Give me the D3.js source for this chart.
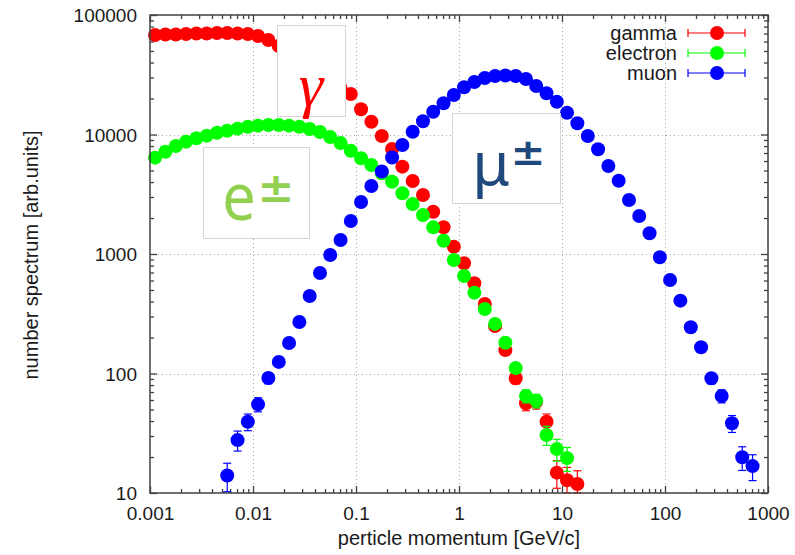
<!DOCTYPE html>
<html>
<head>
<meta charset="utf-8">
<script src="https://cdn.jsdelivr.net/npm/d3@7"></script>
<style>
  body { margin: 0; background: #fff; }
  svg { display: block; }
</style>
</head>
<body>
<svg id="chart" width="795" height="555"></svg>
<script>
// Momentum bin centres [GeV/c], ten bins per decade
const momentum = [
  0.00112, 0.00141, 0.00178, 0.00224, 0.00282, 0.00355, 0.00447, 0.00562, 0.00708, 0.00891,
  0.0112, 0.0141, 0.0178, 0.0224, 0.0282, 0.0355, 0.0447, 0.0562, 0.0708, 0.0891,
  0.112, 0.141, 0.178, 0.224, 0.282, 0.355, 0.447, 0.562, 0.708, 0.891,
  1.12, 1.41, 1.78, 2.24, 2.82, 3.55, 4.47, 5.62, 7.08, 8.91,
  11.2, 14.1, 17.8, 22.4, 28.2, 35.5, 44.7, 56.2, 70.8, 89.1,
  112, 141, 178, 224, 282, 355, 447, 562, 708
];

// Counts per bin for each particle type
const gammaCounts = [
  68000, 68700, 68700, 69400, 70000, 70000, 70700, 70700, 70000, 69400,
  66700, 61800, 55000, 48100, 42000, 36700, 32200, 28600, 24500, 21800,
  16250, 12800, 9710, 7560, 5380, 4085, 3120, 2260, 1672, 1151,
  836, 569, 382, 250, 157, 91.2, 56.3, 58, 39.5, 14.8,
  12.8, 11.9
];
const electronCounts = [
  6400, 7180, 8020, 8710, 9300, 9780, 10350, 10760, 11190, 11620,
  11860, 12000, 12000, 11860, 11620, 11120, 10490, 9530, 8490, 7315,
  6320, 5560, 4735, 4025, 3220, 2620, 2120, 1671, 1291, 891,
  655, 475, 347, 260, 181, 111, 64.8, 59.2, 30.6, 23.3,
  19.6
];
const muonCounts = [
  14, 27.7, 39.5, 55.2, 91.6, 125, 180, 270, 445, 693,
  981, 1310, 1889, 2723, 3707, 4900, 6420, 8170, 10550, 12900,
  15520, 18240, 21410, 24830, 27500, 29710, 30870, 31170, 30870, 29140,
  25460, 22120, 18820, 15220, 12410, 9710, 7520, 5450, 4107, 2831,
  2080, 1490, 939, 606, 407, 244, 166, 91.2, 64.8, 38.3,
  19.9, 16.8
];
// index of the first momentum bin of each series
const seriesStart = [0, 0, 7];

const seriesNames = ["gamma", "electron", "muon"];
const seriesColors = ["#ff0000", "#00ff00", "#0000ff"];

const xTicks = [0.001, 0.01, 0.1, 1, 10, 100, 1000];
const xTickLabels = ["0.001", "0.01", "0.1", "1", "10", "100", "1000"];
const yTicks = [10, 100, 1000, 10000, 100000];
const yTickLabels = ["10", "100", "1000", "10000", "100000"];

const xTitle = "perticle momentum [GeV/c]";
const yTitle = "number spectrum [arb.units]";

// ---- layout ----
const svg = d3.select("#chart");
const plot = { left: 150, right: 768, top: 15, bottom: 493 };
const font = "'Liberation Sans', Arial, Helvetica, sans-serif";
const axisColor = "#404040";
const textColor = "#1a1a1a";
const markerR = 7;

const x = d3.scaleLog().domain([0.001, 1000]).range([plot.left, plot.right]);
const y = d3.scaleLog().domain([10, 100000]).range([plot.bottom, plot.top]);

// minor tick positions 2..9 within each decade
const minorOf = (majors) => {
  const out = [];
  majors.slice(0, -1).forEach(d => { for (let m = 2; m <= 9; m++) out.push(d * m); });
  return out;
};
const xMinor = minorOf(xTicks);
const yMinor = minorOf(yTicks);

// ---- grid ----
const grid = svg.append("g").attr("stroke", "#a8a8a8").attr("stroke-width", 1)
  .attr("stroke-dasharray", "1,3");
xTicks.slice(1, -1).forEach(t => {
  grid.append("line").attr("x1", Math.round(x(t)) + 0.5).attr("x2", Math.round(x(t)) + 0.5)
    .attr("y1", plot.top).attr("y2", plot.bottom);
});
yTicks.slice(1, -1).forEach(t => {
  grid.append("line").attr("y1", Math.round(y(t)) + 0.5).attr("y2", Math.round(y(t)) + 0.5)
    .attr("x1", plot.left).attr("x2", plot.right);
});

// ---- axes (ticks point inward on all four sides) ----
function styleAxis(g) {
  g.select(".domain").remove();
  g.selectAll(".tick line").attr("stroke", axisColor).attr("stroke-width", 1.3);
}
const noLabel = () => "";

svg.append("g").attr("transform", `translate(0,${plot.bottom})`)
  .call(d3.axisBottom(x).tickValues(xMinor).tickFormat(noLabel).tickSize(-4)).call(styleAxis);
svg.append("g").attr("transform", `translate(0,${plot.top})`)
  .call(d3.axisTop(x).tickValues(xMinor).tickFormat(noLabel).tickSize(-4)).call(styleAxis);
svg.append("g").attr("transform", `translate(${plot.left},0)`)
  .call(d3.axisLeft(y).tickValues(yMinor).tickFormat(noLabel).tickSize(-4)).call(styleAxis);
svg.append("g").attr("transform", `translate(${plot.right},0)`)
  .call(d3.axisRight(y).tickValues(yMinor).tickFormat(noLabel).tickSize(-4)).call(styleAxis);

const xAxis = svg.append("g").attr("transform", `translate(0,${plot.bottom})`)
  .call(d3.axisBottom(x).tickValues(xTicks).tickFormat((d, i) => xTickLabels[i]).tickSize(-7))
  .call(styleAxis);
xAxis.selectAll(".tick text").attr("y", 27).attr("dy", 0)
  .attr("font-family", font).attr("font-size", 19).attr("fill", textColor);

const yAxis = svg.append("g").attr("transform", `translate(${plot.left},0)`)
  .call(d3.axisLeft(y).tickValues(yTicks).tickFormat((d, i) => yTickLabels[i]).tickSize(-7))
  .call(styleAxis);
yAxis.selectAll(".tick text").attr("x", -13).attr("dy", "0.36em")
  .attr("font-family", font).attr("font-size", 19).attr("fill", textColor);

svg.append("g").attr("transform", `translate(0,${plot.top})`)
  .call(d3.axisTop(x).tickValues(xTicks).tickFormat(noLabel).tickSize(-7)).call(styleAxis);
svg.append("g").attr("transform", `translate(${plot.right},0)`)
  .call(d3.axisRight(y).tickValues(yTicks).tickFormat(noLabel).tickSize(-7)).call(styleAxis);

// ---- axis titles ----
svg.append("text").attr("x", 459).attr("y", 545).attr("text-anchor", "middle")
  .attr("font-family", font).attr("font-size", 20).attr("fill", textColor).text(xTitle);
svg.append("text").attr("transform", "translate(38,255) rotate(-90)").attr("text-anchor", "middle")
  .attr("font-family", font).attr("font-size", 20).attr("fill", textColor).text(yTitle);

// ---- data series: points with statistical (sqrt N) error bars ----
const counts = [gammaCounts, electronCounts, muonCounts];
const series = counts.map((c, s) => ({
  name: seriesNames[s],
  color: seriesColors[s],
  points: c.map((n, i) => ({ p: momentum[seriesStart[s] + i], n }))
}));

series.forEach(sr => {
  const g = svg.append("g");
  const bars = g.append("g").attr("stroke", sr.color).attr("stroke-width", 1.2).attr("fill", "none");
  sr.points.forEach(d => {
    const err = Math.sqrt(d.n);
    const cx = x(d.p);
    const y1 = y(Math.max(d.n - err, 10));
    const y2 = y(d.n + err);
    bars.append("line").attr("x1", cx).attr("x2", cx).attr("y1", y1).attr("y2", y2);
    bars.append("line").attr("x1", cx - 4).attr("x2", cx + 4).attr("y1", y1).attr("y2", y1);
    bars.append("line").attr("x1", cx - 4).attr("x2", cx + 4).attr("y1", y2).attr("y2", y2);
  });
  g.selectAll("circle").data(sr.points).join("circle")
    .attr("cx", d => x(d.p)).attr("cy", d => y(d.n)).attr("r", markerR)
    .attr("fill", sr.color);
});

// ---- plot frame ----
svg.append("rect").attr("x", plot.left).attr("y", plot.top)
  .attr("width", plot.right - plot.left).attr("height", plot.bottom - plot.top)
  .attr("fill", "none").attr("stroke", axisColor).attr("stroke-width", 1.5);

// ---- legend ----
const legend = svg.append("g");
series.forEach((sr, i) => {
  const ly = 33 + 20 * i;
  legend.append("text").attr("x", 677).attr("y", ly + 6.5).attr("text-anchor", "end")
    .attr("font-family", font).attr("font-size", 20).attr("fill", textColor).text(sr.name);
  const lg = legend.append("g").attr("stroke", sr.color).attr("stroke-width", 1.2);
  lg.append("line").attr("x1", 688).attr("x2", 745).attr("y1", ly).attr("y2", ly);
  lg.append("line").attr("x1", 688).attr("x2", 688).attr("y1", ly - 4).attr("y2", ly + 4);
  lg.append("line").attr("x1", 745).attr("x2", 745).attr("y1", ly - 4).attr("y2", ly + 4);
  legend.append("circle").attr("cx", 717).attr("cy", ly).attr("r", markerR).attr("fill", sr.color);
});

// ---- particle symbol labels ----
function labelBox(bx, by, bw, bh) {
  svg.append("rect").attr("x", bx + 0.5).attr("y", by + 0.5).attr("width", bw).attr("height", bh)
    .attr("fill", "#fff").attr("stroke", "#d6d6d6").attr("stroke-width", 1);
}
labelBox(277, 25, 68, 91);
svg.append("text").attr("x", 311).attr("y", 106).attr("text-anchor", "middle")
  .attr("font-family", "'Liberation Serif', 'DejaVu Serif', serif").attr("font-style", "italic")
  .attr("font-size", 62).attr("fill", "#ff0000").text("γ");

labelBox(203, 147, 106, 91);
svg.append("text").attr("transform", "translate(239,220) scale(0.9,1)").attr("text-anchor", "middle")
  .attr("font-family", "'Noto Sans', sans-serif").attr("font-size", 66).attr("fill", "#92d050").text("e");
svg.append("text").attr("transform", "translate(276,202) scale(1.1,1)").attr("text-anchor", "middle")
  .attr("font-family", "'DejaVu Sans', sans-serif").attr("font-weight", "bold").attr("font-size", 40)
  .attr("fill", "#92d050").text("±");

labelBox(452, 113, 108, 90);
svg.append("text").attr("x", 491).attr("y", 185).attr("text-anchor", "middle")
  .attr("font-family", "'Noto Sans', sans-serif").attr("font-size", 60).attr("fill", "#1f497d").text("μ");
svg.append("text").attr("transform", "translate(528,165) scale(1.1,1)").attr("text-anchor", "middle")
  .attr("font-family", "'DejaVu Sans', sans-serif").attr("font-weight", "bold").attr("font-size", 38)
  .attr("fill", "#1f497d").text("±");
</script>
</body>
</html>
